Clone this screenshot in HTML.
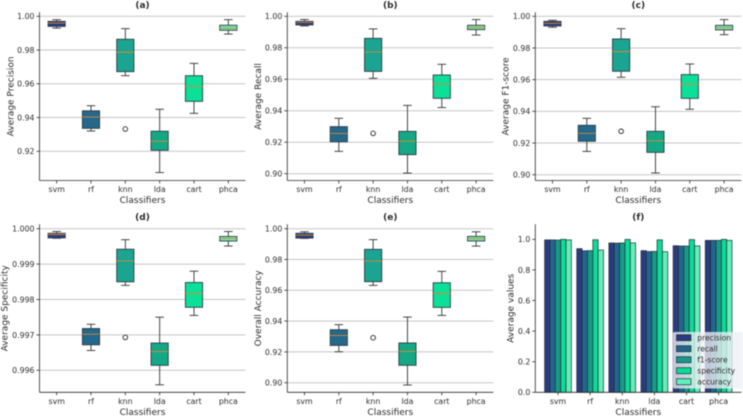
<!DOCTYPE html>
<html>
<head>
<meta charset="utf-8">
<title>Classifier comparison</title>
<style>
html,body{margin:0;padding:0;background:#fff;width:743px;height:416px;overflow:hidden}
svg{display:block;font-family:"DejaVu Sans","Liberation Sans",sans-serif;filter:blur(0.4px)}
text{fill:#2c2c2c}
</style>
</head>
<body>
<svg id="figure" xmlns="http://www.w3.org/2000/svg" width="743" height="416" viewBox="0 0 743 416"></svg>
<script>
const categories = ['svm','rf','knn','lda','cart','phca'];

const precisionLow    = [0.993,0.932,0.9648,0.9074,0.9425,0.9895];
const precisionQ1     = [0.994,0.9336,0.9672,0.9206,0.9496,0.9917];
const precisionMedian = [0.996,0.9403,0.9787,0.9259,0.9585,0.9929];
const precisionQ3     = [0.997,0.944,0.9864,0.9319,0.9648,0.9947];
const precisionHigh   = [0.998,0.947,0.9927,0.9449,0.9721,0.998];
const precisionOutlier = [null,null,0.9332,null,null,null];
const precisionTicks  = [0.92,0.94,0.96,0.98,1.00];

const recallLow    = [0.9939,0.9142,0.9606,0.9004,0.942,0.9881];
const recallQ1     = [0.9945,0.9203,0.965,0.9121,0.9479,0.9915];
const recallMedian = [0.9962,0.9256,0.9773,0.9206,0.957,0.9928];
const recallQ3     = [0.9968,0.9299,0.986,0.9269,0.9627,0.9943];
const recallHigh   = [0.998,0.9352,0.992,0.9434,0.9695,0.9979];
const recallOutlier = [null,null,0.9256,null,null,null];
const recallTicks  = [0.90,0.92,0.94,0.96,0.98,1.00];

const f1Low    = [0.9931,0.9147,0.9615,0.9011,0.9413,0.9884];
const f1Q1     = [0.9939,0.9211,0.9653,0.9141,0.9482,0.9914];
const f1Median = [0.9956,0.9261,0.9777,0.9215,0.9571,0.9928];
const f1Q3     = [0.9968,0.9312,0.9857,0.9274,0.9632,0.9943];
const f1High   = [0.9975,0.9356,0.9922,0.9429,0.9699,0.9979];
const f1Outlier = [null,null,0.9274,null,null,null];
const f1Ticks  = [0.90,0.92,0.94,0.96,0.98,1.00];

const specificityLow    = [0.99973,0.99656,0.9984,0.99559,0.99755,0.99951];
const specificityQ1     = [0.99974,0.99672,0.9985,0.99614,0.99778,0.99965];
const specificityMedian = [0.99984,0.99702,0.99909,0.99653,0.99817,0.99972];
const specificityQ3     = [0.99987,0.99718,0.99942,0.99677,0.99848,0.99978];
const specificityHigh   = [0.99992,0.9973,0.99969,0.9975,0.9988,0.99992];
const specificityOutlier = [null,null,0.99693,null,null,null];
const specificityTicks  = [0.996,0.997,0.998,0.999,1.000];

const accuracyLow    = [0.9937,0.9201,0.9632,0.8985,0.9437,0.9887];
const accuracyQ1     = [0.9939,0.9242,0.9656,0.9113,0.9489,0.992];
const accuracyMedian = [0.9959,0.9307,0.979,0.9203,0.958,0.9935];
const accuracyQ3     = [0.997,0.9344,0.9866,0.9258,0.9649,0.995];
const accuracyHigh   = [0.998,0.9377,0.9929,0.9426,0.9723,0.998];
const accuracyOutlier = [null,null,0.9292,null,null,null];
const accuracyTicks  = [0.90,0.92,0.94,0.96,0.98,1.00];

const barSeriesNames = ['precision','recall','f1-score','specificity','accuracy'];
const barPrecision   = [0.996,0.939,0.976,0.926,0.958,0.993];
const barRecall      = [0.996,0.925,0.975,0.920,0.956,0.993];
const barF1          = [0.995,0.926,0.976,0.921,0.956,0.993];
const barSpecificity = [0.9998,0.997,0.999,0.9965,0.998,0.9997];
const barAccuracy    = [0.996,0.930,0.976,0.919,0.957,0.993];
const barTicks       = [0.0,0.2,0.4,0.6,0.8,1.0];

const boxColors = ['#2b3b85','#24688c','#1aa491','#14a886','#0bdf98','#6aeab6'];
const barColors = ['#2b3b80','#22678b','#189a8a','#0cdc94','#62efb9'];
const ink = '#2a2a2a';
const svg = document.getElementById('figure');
const NS = 'http://www.w3.org/2000/svg';

function make(parent, tag, attrs, content) {
  const el = document.createElementNS(NS, tag);
  for (const k in attrs) el.setAttribute(k, attrs[k]);
  if (content !== undefined) el.textContent = content;
  parent.appendChild(el);
  return el;
}

function axes(opts) {
  const g = make(svg, 'g', {});
  
  
  const y = v => opts.y0 + (v - opts.v0) * (opts.y1 - opts.y0) / (opts.v1 - opts.v0);
  const x = i => opts.x0 + i * opts.step;

  opts.ticks.forEach(t => {
    if (opts.grid) {
      const gl = make(g, 'line', {x1: opts.left, x2: opts.right, y1: y(t), y2: y(t), stroke: '#c6c6c6', 'stroke-width': 1});
      
      
    }
    const tm = make(g, 'line', {x1: opts.left - 3, x2: opts.left, y1: y(t), y2: y(t), stroke: ink, 'stroke-width': 0.8});
    
    
    const tl = make(g, 'text', {x: opts.left - 5, y: y(t) + 2.9, 'font-size': 7.8, 'text-anchor': 'end'}, t.toFixed(opts.decimals));
    
    
  });

  categories.forEach((c, i) => {
    const tm = make(g, 'line', {x1: x(i), x2: x(i), y1: opts.bottom, y2: opts.bottom + 3, stroke: ink, 'stroke-width': 0.8});
    
    
    const tl = make(g, 'text', {x: x(i), y: opts.bottom + 11.5, 'font-size': 7.8, 'text-anchor': 'middle'}, c);
    
    
  });

  const title = make(g, 'text', {x: (opts.left + opts.right) / 2, y: opts.top - 4.5, 'font-size': 9, 'font-weight': 'bold', 'text-anchor': 'middle'}, opts.title);
  
  
  const xl = make(g, 'text', {x: (opts.left + opts.right) / 2, y: opts.bottom + 22.5, 'font-size': 9, 'text-anchor': 'middle'}, 'Classifiers');
  
  
  const ymid = (opts.top + opts.bottom) / 2;
  const yl = make(g, 'text', {x: opts.ylabelX, y: ymid, 'font-size': 9, 'text-anchor': 'middle', transform: 'rotate(-90 ' + opts.ylabelX + ' ' + ymid + ')'}, opts.ylabel);
  
  
  return {g, x, y};
}

function spines(g, opts) {
  const sl = make(g, 'line', {x1: opts.left, x2: opts.left, y1: opts.top, y2: opts.bottom, stroke: ink, 'stroke-width': 0.8});
  
  
  const sb = make(g, 'line', {x1: opts.left, x2: opts.right, y1: opts.bottom, y2: opts.bottom, stroke: ink, 'stroke-width': 0.8});
  
  
}

function boxPanel(opts, low, q1, med, q3, high, outlier) {
  opts.step = 34.33;
  opts.x0 = opts.left + 17.17;
  opts.right = opts.left + 206;
  opts.grid = true;
  const {g, x, y} = axes(opts);
  const hw = 8.6, cap = 4.3;
  categories.forEach((c, i) => {
    const bg = make(g, 'g', {});
    
    
    const stem = {stroke: '#333', 'stroke-width': 0.9};
    make(bg, 'line', Object.assign({x1: x(i), x2: x(i), y1: y(high[i]), y2: y(q3[i])}, stem));
    make(bg, 'line', Object.assign({x1: x(i), x2: x(i), y1: y(q1[i]), y2: y(low[i])}, stem));
    make(bg, 'line', Object.assign({x1: x(i) - cap, x2: x(i) + cap, y1: y(high[i]), y2: y(high[i])}, stem));
    make(bg, 'line', Object.assign({x1: x(i) - cap, x2: x(i) + cap, y1: y(low[i]), y2: y(low[i])}, stem));
    make(bg, 'rect', {x: x(i) - hw, width: hw * 2, y: y(q3[i]), height: y(q1[i]) - y(q3[i]), fill: boxColors[i], stroke: '#2c3e44', 'stroke-width': 0.9});
    make(bg, 'line', {x1: x(i) - hw, x2: x(i) + hw, y1: y(med[i]), y2: y(med[i]), stroke: '#e0872a', 'stroke-width': 0.9});
    if (outlier[i] !== null) {
      const o = make(bg, 'circle', {cx: x(i), cy: y(outlier[i]), r: 2.3, fill: '#fff', stroke: '#222', 'stroke-width': 0.9});
      
      
    }
  });
  spines(g, opts);
}

boxPanel({slug:'a', title:'(a)', ylabel:'Average Precision', ylabelX:13.3, left:39.5, top:12.3, bottom:180.5, y0:16.3, v0:1.00, y1:151.3, v1:0.92, ticks:precisionTicks, decimals:2},
  precisionLow, precisionQ1, precisionMedian, precisionQ3, precisionHigh, precisionOutlier);
boxPanel({slug:'b', title:'(b)', ylabel:'Average Recall', ylabelX:260.8, left:287.3, top:12.3, bottom:180.5, y0:16.3, v0:1.00, y1:173.7, v1:0.90, ticks:recallTicks, decimals:2},
  recallLow, recallQ1, recallMedian, recallQ3, recallHigh, recallOutlier);
boxPanel({slug:'c', title:'(c)', ylabel:'Average F1-score', ylabelX:508.5, left:535.3, top:12.3, bottom:180.5, y0:16.3, v0:1.00, y1:174.7, v1:0.90, ticks:f1Ticks, decimals:2},
  f1Low, f1Q1, f1Median, f1Q3, f1High, f1Outlier);
boxPanel({slug:'d', title:'(d)', ylabel:'Average Specificity', ylabelX:7.5, left:39.5, top:224.3, bottom:392.3, y0:228.7, v0:1.000, y1:370.3, v1:0.996, ticks:specificityTicks, decimals:3},
  specificityLow, specificityQ1, specificityMedian, specificityQ3, specificityHigh, specificityOutlier);
boxPanel({slug:'e', title:'(e)', ylabel:'Overall Accuracy', ylabelX:260.8, left:287.3, top:224.3, bottom:392.3, y0:228.7, v0:1.00, y1:382.7, v1:0.90, ticks:accuracyTicks, decimals:2},
  accuracyLow, accuracyQ1, accuracyMedian, accuracyQ3, accuracyHigh, accuracyOutlier);

(function barPanel() {
  const opts = {slug:'f', title:'(f)', ylabel:'Average values', ylabelX:513.5, left:535.3, right:741.3, top:224.3, bottom:392.3, y0:392.3, v0:0, y1:239.3, v1:1, ticks:barTicks, decimals:1, step:32.13, x0:558, grid:false};
  const {g, x, y} = axes(opts);
  const series = [barPrecision, barRecall, barF1, barSpecificity, barAccuracy];
  const bw = opts.step / 6;
  series.forEach((vals, s) => {
    vals.forEach((v, i) => {
      const r = make(g, 'rect', {x: x(i) + (s - 2.5) * bw, width: bw, y: y(v), height: y(0) - y(v), fill: barColors[s], stroke: '#1f2f3a', 'stroke-width': 0.7});
      
      
    });
  });
  spines(g, opts);

  const lg = make(g, 'g', {});
  
  
  make(lg, 'rect', {x: 673, y: 332, width: 71, height: 56.5, rx: 1.5, fill: '#eef0f6', 'fill-opacity': 0.78});
  barSeriesNames.forEach((n, s) => {
    const cy = 337.7 + s * 11;
    const sw = make(lg, 'rect', {x: 676.5, y: cy - 3, width: 14.5, height: 6, fill: barColors[s], stroke: '#1f2f3a', 'stroke-width': 0.7});
    
    
    const lt = make(lg, 'text', {x: 697.3, y: cy + 2.7, 'font-size': 7.5}, n);
    
    
  });
})();
</script>
</body>
</html>
